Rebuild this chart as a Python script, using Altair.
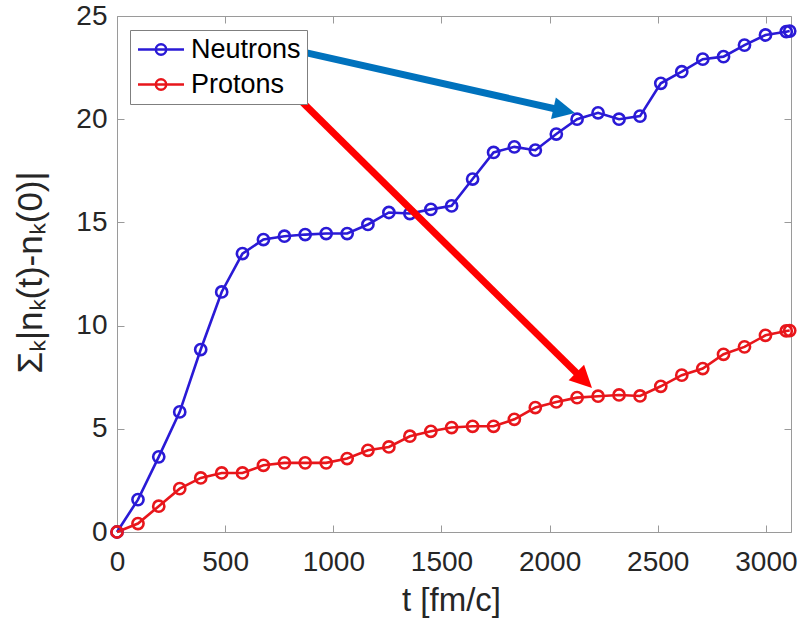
import altair as alt
import pandas as pd

# ---- data ----
t_fmc = [0, 97, 193, 290, 387, 484, 580, 677, 774, 870, 967, 1064, 1160, 1257,
         1354, 1451, 1547, 1644, 1741, 1837, 1934, 2031, 2127, 2224, 2321, 2418,
         2514, 2611, 2708, 2804, 2901, 2998, 3094, 3110]
neutrons = [0, 1.57, 3.64, 5.82, 8.84, 11.63, 13.49, 14.17, 14.33, 14.41, 14.46,
            14.46, 14.90, 15.48, 15.43, 15.63, 15.80, 17.10, 18.39, 18.66, 18.50,
            19.28, 20.00, 20.31, 20.00, 20.15, 21.74, 22.30, 22.91, 23.03, 23.59,
            24.08, 24.24, 24.27]
protons = [0, 0.41, 1.25, 2.10, 2.62, 2.86, 2.86, 3.23, 3.35, 3.35, 3.35, 3.56,
           3.96, 4.12, 4.64, 4.88, 5.06, 5.12, 5.12, 5.46, 6.03, 6.30, 6.51, 6.58,
           6.64, 6.59, 7.06, 7.60, 7.92, 8.61, 8.97, 9.53, 9.74, 9.76]
series_names = ["Neutrons", "Protons"]
series_colors = ["#2a1ad6", "#e8161b"]

x_ticks = [0, 500, 1000, 1500, 2000, 2500, 3000]
y_ticks = [0, 5, 10, 15, 20, 25]
x_domain = [0, 3116]
y_domain = [0, 25]

# annotation arrows (data coordinates)
arrow_colors = ["#0072BD", "#FF0000"]
arrow_start_t = [877, 814]
arrow_start_v = [23.21, 21.27]
arrow_shaft_end_t = [2039, 2141]
arrow_shaft_end_v = [20.47, 7.53]
arrow_tip_t = [2117, 2196]
arrow_tip_v = [20.30, 6.98]
arrow_angle = [102.6, 134.6]

# ---- tables ----
rows = []
for name, vals in zip(series_names, [neutrons, protons]):
    for t, v in zip(t_fmc, vals):
        rows.append({"t": t, "v": v, "series": name})
df = pd.DataFrame(rows)

arrows = pd.DataFrame({
    "t0": arrow_start_t, "v0": arrow_start_v,
    "t1": arrow_shaft_end_t, "v1": arrow_shaft_end_v,
    "tt": arrow_tip_t, "vt": arrow_tip_v,
    "col": arrow_colors, "ang": arrow_angle,
})

FONT = "Liberation Sans"
xs = alt.Scale(domain=x_domain, nice=False, zero=False)
ys = alt.Scale(domain=y_domain, nice=False, zero=False)

legend_symbol = ("M-1,0L3,0M1.45,0A0.45,0.45 0 1,1 0.55,0A0.45,0.45 0 1,1 1.45,0")

lines = alt.Chart(df).mark_line(
    strokeWidth=2.6,
    point=alt.OverlayMarkDef(filled=False, size=125, strokeWidth=2.6),
).encode(
    x=alt.X("t:Q", scale=xs, axis=alt.Axis(
        values=x_ticks, format="d", title="t [fm/c]", offset=-7, domain=False,
        tickSize=7, labelPadding=16, labelFlush=False, grid=False,
        titleX=334, titleY=85, titleBaseline="alphabetic", titleAlign="center",
        titleFontSize=33)),
    y=alt.Y("v:Q", scale=ys, axis=alt.Axis(
        values=y_ticks, format="d", title="Σₖ|nₖ(t)-nₖ(0)|", offset=-7, domain=False,
        tickSize=7, labelPadding=10, labelFlush=False, grid=False,
        titleX=-83, titleY=256, titleBaseline="alphabetic", titleAlign="center",
        titleAngle=270, titleFontSize=35)),
    color=alt.Color("series:N", scale=alt.Scale(domain=series_names, range=series_colors),
                    legend=alt.Legend(
                        title=None, orient="none", legendX=13, legendY=14,
                        symbolType=legend_symbol, symbolSize=529,
                        symbolStrokeWidth=2.5, symbolFillColor="transparent",
                        labelFont=FONT, labelFontSize=27, labelColor="#000000",
                        labelOffset=28, padding=6, rowPadding=7,
                        fillColor="#ffffff", strokeColor="#7f7f7f")),
)

shafts = alt.Chart(arrows).mark_rule(strokeWidth=7, strokeCap="butt").encode(
    x=alt.X("t0:Q", scale=xs, axis=alt.Axis(
        orient="top", values=x_ticks, labels=False, title=None, offset=-7,
        domain=False, tickSize=7, grid=False)),
    y=alt.Y("v0:Q", scale=ys, axis=alt.Axis(
        orient="right", values=y_ticks, labels=False, title=None, offset=-7,
        domain=False, tickSize=7, grid=False)),
    x2="t1:Q",
    y2="v1:Q",
    color=alt.Color("col:N", scale=None),
)

heads = alt.Chart(arrows).mark_point(
    shape="M0,0L-1,2L1,2Z", size=484, filled=True, opacity=1,
).encode(
    x=alt.X("tt:Q", scale=xs, axis=None),
    y=alt.Y("vt:Q", scale=ys, axis=None),
    color=alt.Color("col:N", scale=None),
    angle=alt.Angle("ang:Q", scale=None),
)

chart = alt.layer(lines, shafts, heads).resolve_axis(
    x="independent", y="independent"
).properties(
    width=674, height=516,
    padding={"left": 117, "top": 16, "right": 11, "bottom": 91},
    autosize=alt.AutoSizeParams(type="none"),
    background="#ffffff",
).configure_view(
    stroke="#9a9a9a", strokeWidth=1,
).configure_axis(
    labelFont=FONT, labelFontSize=28, labelColor="#262626",
    titleFont=FONT, titleFontSize=30, titleFontWeight="normal", titleColor="#262626",
    tickColor="#9a9a9a", tickWidth=1,
)

chart.save("out.html", embed_options={"renderer": "svg", "actions": False})
